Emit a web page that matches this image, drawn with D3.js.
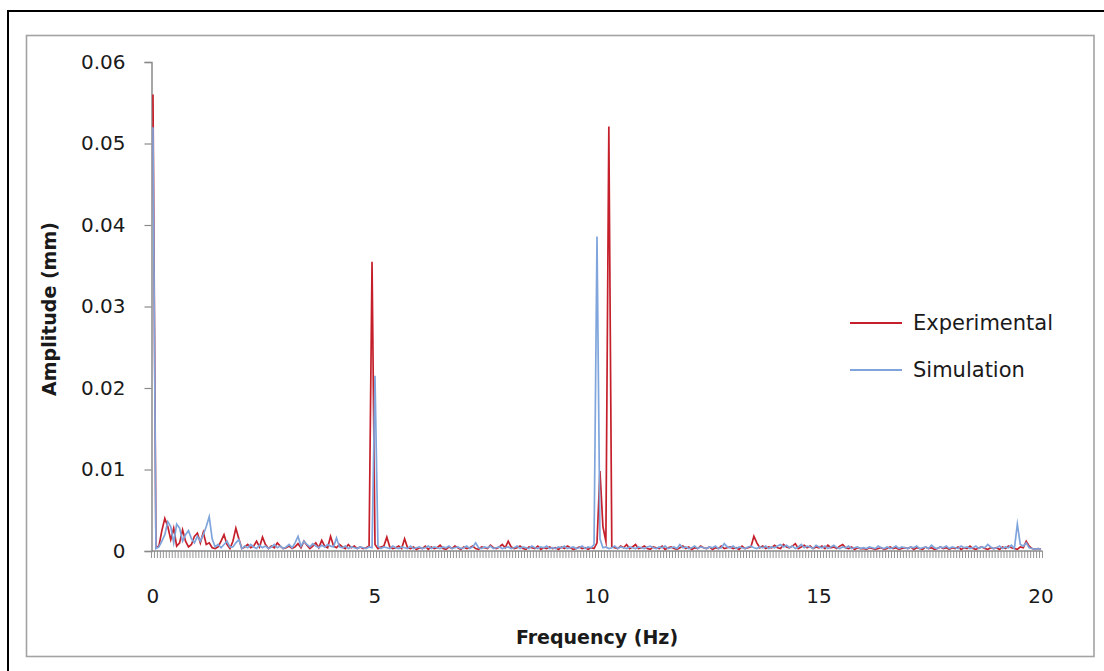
<!DOCTYPE html>
<html>
<head>
<meta charset="utf-8">
<script src="https://cdn.jsdelivr.net/npm/d3@7"></script>
<style>
  html, body { margin: 0; padding: 0; background: #fff; }
  svg { display: block; }
  text { font-family: "DejaVu Sans", sans-serif; fill: #1a1a1a; }
</style>
</head>
<body>
<svg id="chart" width="1104" height="671"></svg>
<script>
// Spectrum sampled every 1/15 Hz from 0 to 20 Hz (301 bins), amplitudes in 1e-4 mm.
const binStep = 1 / 15;

const experimental = [
  560, 4, 6, 25, 40, 30, 14, 28, 6, 10, 26, 12, 5, 8, 18,
  22, 10, 23, 8, 10, 4, 3, 5, 12, 20, 8, 3, 12, 28, 15,
  3, 5, 8, 4, 6, 12, 5, 17, 8, 3, 6, 4, 10, 6, 3,
  4, 6, 3, 5, 9, 4, 12, 7, 3, 6, 10, 4, 13, 6, 4,
  18, 6, 4, 8, 5, 3, 8, 4, 6, 3, 5, 3, 4, 6, 355,
  8, 3, 5, 6, 17, 5, 3, 4, 6, 3, 15, 4, 3, 5, 2,
  4, 3, 6, 2, 5, 3, 4, 7, 3, 2, 5, 3, 6, 4, 2,
  5, 3, 4, 6, 3, 2, 5, 4, 3, 7, 4, 3, 5, 8, 4,
  12, 5, 3, 4, 6, 3, 2, 5, 4, 3, 6, 2, 4, 3, 5,
  3, 4, 2, 5, 3, 6, 4, 2, 3, 5, 3, 4, 2, 4, 3,
  10, 98, 30, 12, 521, 5, 4, 3, 6, 4, 8, 3, 5, 8, 3,
  4, 6, 3, 2, 5, 4, 3, 6, 2, 4, 5, 3, 2, 4, 6,
  3, 5, 2, 4, 3, 6, 4, 3, 5, 2, 4, 3, 6, 3, 4,
  5, 3, 4, 2, 6, 3, 4, 5, 18, 10, 4, 6, 3, 5, 4,
  7, 4, 3, 8, 5, 4, 6, 9, 3, 5, 7, 4, 6, 3, 5,
  4, 6, 3, 7, 4, 5, 3, 6, 8, 4, 3, 5, 2, 4, 3,
  3, 2, 4, 3, 2, 3, 4, 2, 3, 5, 3, 4, 2, 3, 4,
  3, 5, 2, 4, 3, 2, 5, 3, 4, 2, 3, 5, 3, 4, 2,
  4, 3, 5, 2, 4, 3, 6, 3, 2, 4, 5, 3, 2, 4, 3,
  4, 2, 5, 3, 6, 4, 3, 2, 5, 4, 12, 6, 3, 2, 3,
  2
];

const simulation = [
  520, 3, 5, 12, 20, 36, 30, 10, 33, 28, 12, 20, 25, 15, 10,
  18, 12, 20, 30, 42, 15, 5, 8, 4, 8, 12, 5, 5, 10, 14,
  3, 6, 4, 8, 5, 3, 7, 4, 6, 3, 5, 8, 4, 6, 3,
  5, 8, 4, 10, 18, 6, 12, 8, 5, 9, 6, 4, 7, 5, 8,
  6, 5, 16, 5, 4, 6, 3, 5, 4, 3, 5, 4, 3, 5, 4,
  215, 6, 3, 5, 4, 3, 6, 4, 3, 5, 4, 3, 6, 3, 4,
  5, 3, 4, 6, 3, 5, 4, 3, 5, 4, 6, 3, 4, 5, 3,
  4, 6, 3, 5, 10, 4, 3, 5, 4, 6, 3, 4, 5, 3, 4,
  5, 3, 4, 6, 3, 5, 4, 3, 6, 4, 3, 5, 4, 6, 3,
  4, 3, 5, 4, 6, 3, 4, 5, 3, 4, 6, 3, 5, 4, 8,
  386, 15, 4, 5, 3, 4, 6, 3, 5, 4, 3, 5, 4, 3, 5,
  4, 3, 5, 6, 4, 3, 5, 4, 6, 3, 4, 5, 3, 8, 4,
  5, 3, 4, 6, 3, 5, 4, 3, 5, 4, 6, 3, 4, 9, 5,
  4, 6, 3, 5, 4, 3, 5, 6, 4, 3, 5, 4, 6, 3, 5,
  4, 6, 8, 5, 7, 4, 6, 3, 5, 8, 4, 6, 5, 3, 7,
  5, 4, 6, 3, 5, 7, 4, 3, 5, 4, 6, 3, 4, 5, 3,
  4, 3, 5, 4, 3, 6, 4, 3, 5, 3, 4, 6, 3, 5, 4,
  3, 5, 4, 6, 3, 4, 5, 3, 7, 4, 3, 5, 4, 6, 3,
  5, 4, 3, 6, 4, 5, 3, 4, 6, 3, 5, 4, 8, 5, 3,
  4, 6, 3, 5, 4, 7, 3, 33, 8, 6, 10, 4, 3, 2, 3,
  2
];

const seriesNames = ["Experimental", "Simulation"];
const seriesColors = ["#c41f2a", "#7fa5dc"];
const xTickLabels = [0, 5, 10, 15, 20];
const yTickLabels = [0, 0.01, 0.02, 0.03, 0.04, 0.05, 0.06];

const svg = d3.select("#chart");

// outer frame (left and top edges) and chart area border
svg.append("path").attr("d", "M8,671 V11 H1104")
  .attr("fill", "none").attr("stroke", "#000").attr("stroke-width", 2);
svg.append("rect").attr("x", 26.5).attr("y", 35.5).attr("width", 1067.5).attr("height", 621)
  .attr("fill", "none").attr("stroke", "#a3a3a3").attr("stroke-width", 1.6);

const nBins = experimental.length;
const x = d3.scaleLinear()
  .domain([-binStep / 2, (nBins - 1) * binStep + binStep / 2])
  .range([151.5, 1042.5]);
const y = d3.scaleLinear().domain([0, 0.06]).range([551, 62]);

const axisColor = "#8a8a8a";

// y axis
const yAxis = svg.append("g").attr("transform", `translate(${x.range()[0]},0)`)
  .call(d3.axisLeft(y).tickValues(yTickLabels)
    .tickFormat(d => d === 0 ? "0" : d3.format(".2f")(d)).tickSize(7).tickPadding(19));
yAxis.select(".domain").attr("stroke", axisColor).attr("stroke-width", 1.5);
yAxis.selectAll(".tick line").attr("stroke", axisColor).attr("stroke-width", 1.2);
yAxis.selectAll(".tick text").style("font-size", "20px").attr("fill", "#1a1a1a");

// x axis: a small tick at every bin boundary
const boundaries = d3.range(nBins + 1).map(i => (i - 0.5) * binStep);
const xg = svg.append("g");
xg.selectAll("line.bt").data(boundaries).join("line").attr("class", "bt")
  .attr("x1", d => x(d)).attr("x2", d => x(d))
  .attr("y1", y(0)).attr("y2", y(0) + 7)
  .attr("stroke", "#959595").attr("stroke-width", 1);
xg.append("line").attr("x1", x.range()[0]).attr("x2", x.range()[1])
  .attr("y1", y(0)).attr("y2", y(0)).attr("stroke", axisColor).attr("stroke-width", 1.5);
xg.selectAll("text.xl").data(xTickLabels).join("text").attr("class", "xl")
  .attr("x", d => x(d)).attr("y", 596)
  .attr("text-anchor", "middle").attr("dominant-baseline", "central")
  .style("font-size", "20px").text(d => d);

// axis titles
svg.append("text").attr("x", 597).attr("y", 637)
  .attr("text-anchor", "middle").attr("dominant-baseline", "central")
  .style("font-size", "19px").style("font-weight", "bold").text("Frequency (Hz)");
svg.append("text").attr("transform", "translate(49,309) rotate(-90)")
  .attr("text-anchor", "middle").attr("dominant-baseline", "central")
  .style("font-size", "19px").style("font-weight", "bold").text("Amplitude (mm)");

// spectra
const line = d3.line()
  .x((d, i) => x(i * binStep))
  .y(d => y(d * 1e-4));
[experimental, simulation].forEach((vals, k) => {
  svg.append("path").datum(vals)
    .attr("d", line).attr("fill", "none")
    .attr("stroke", seriesColors[k]).attr("stroke-width", 1.7)
    .attr("stroke-linejoin", "miter").attr("stroke-miterlimit", 10);
});

// legend
const legend = svg.append("g");
seriesNames.forEach((name, k) => {
  const ly = 323 + k * 47;
  legend.append("line").attr("x1", 850).attr("x2", 902).attr("y1", ly).attr("y2", ly)
    .attr("stroke", seriesColors[k]).attr("stroke-width", 2);
  legend.append("text").attr("x", 913).attr("y", ly)
    .attr("dominant-baseline", "central").style("font-size", "21px").text(name);
});
</script>
</body>
</html>
